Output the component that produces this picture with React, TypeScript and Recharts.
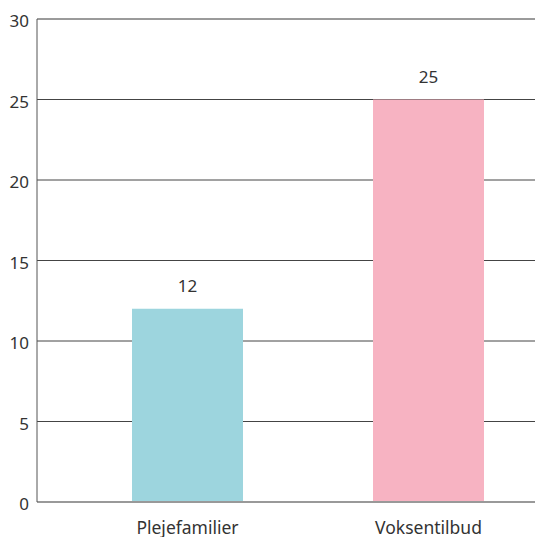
import { BarChart, Bar, XAxis, YAxis, CartesianGrid, Cell, LabelList, ReferenceLine } from 'recharts'

const categories = ['Plejefamilier', 'Voksentilbud']
const values = [12, 25]
const barColors = ['#9dd5de', '#f7b3c2']
const yTicks = [0, 5, 10, 15, 20, 25, 30]

const data = categories.map((name, i) => ({ name, value: values[i] }))

const font = '"Source Sans Pro", "Noto Sans", "Open Sans", sans-serif'

export default function App() {
  return (
    <div style={{ margin: -8, background: '#fff' }}>
      <BarChart
        width={543}
        height={545}
        data={data}
        margin={{ top: 19, right: 0, bottom: 0, left: 0 }}
      >
        <CartesianGrid vertical={false} stroke="#444" strokeWidth={1} />
        <ReferenceLine y={30} stroke="#999" strokeWidth={1.5} />
        <XAxis
          dataKey="name"
          padding={{ left: 30, right: -6 }}
          axisLine={{ stroke: '#999', strokeWidth: 2 }}
          tickLine={false}
          tickSize={0}
          tickMargin={20}
          height={43}
          tick={{ fill: '#333', fontSize: 17.5, fontFamily: font }}
        />
        <YAxis
          type="number"
          domain={[0, 30]}
          ticks={yTicks}
          interval={0}
          width={37}
          axisLine={{ stroke: '#555', strokeWidth: 1 }}
          tickLine={false}
          tickSize={0}
          tickMargin={8}
          tick={{ fill: '#333', fontSize: 17, fontFamily: font, dy: 2 }}
        />
        <Bar dataKey="value" barSize={111} isAnimationActive={false}>
          {data.map((d, i) => (
            <Cell key={d.name} fill={barColors[i]} />
          ))}
          <LabelList
            dataKey="value"
            position="top"
            offset={17}
            style={{ fill: '#333', fontSize: 17, fontFamily: font }}
          />
        </Bar>
      </BarChart>
    </div>
  )
}
